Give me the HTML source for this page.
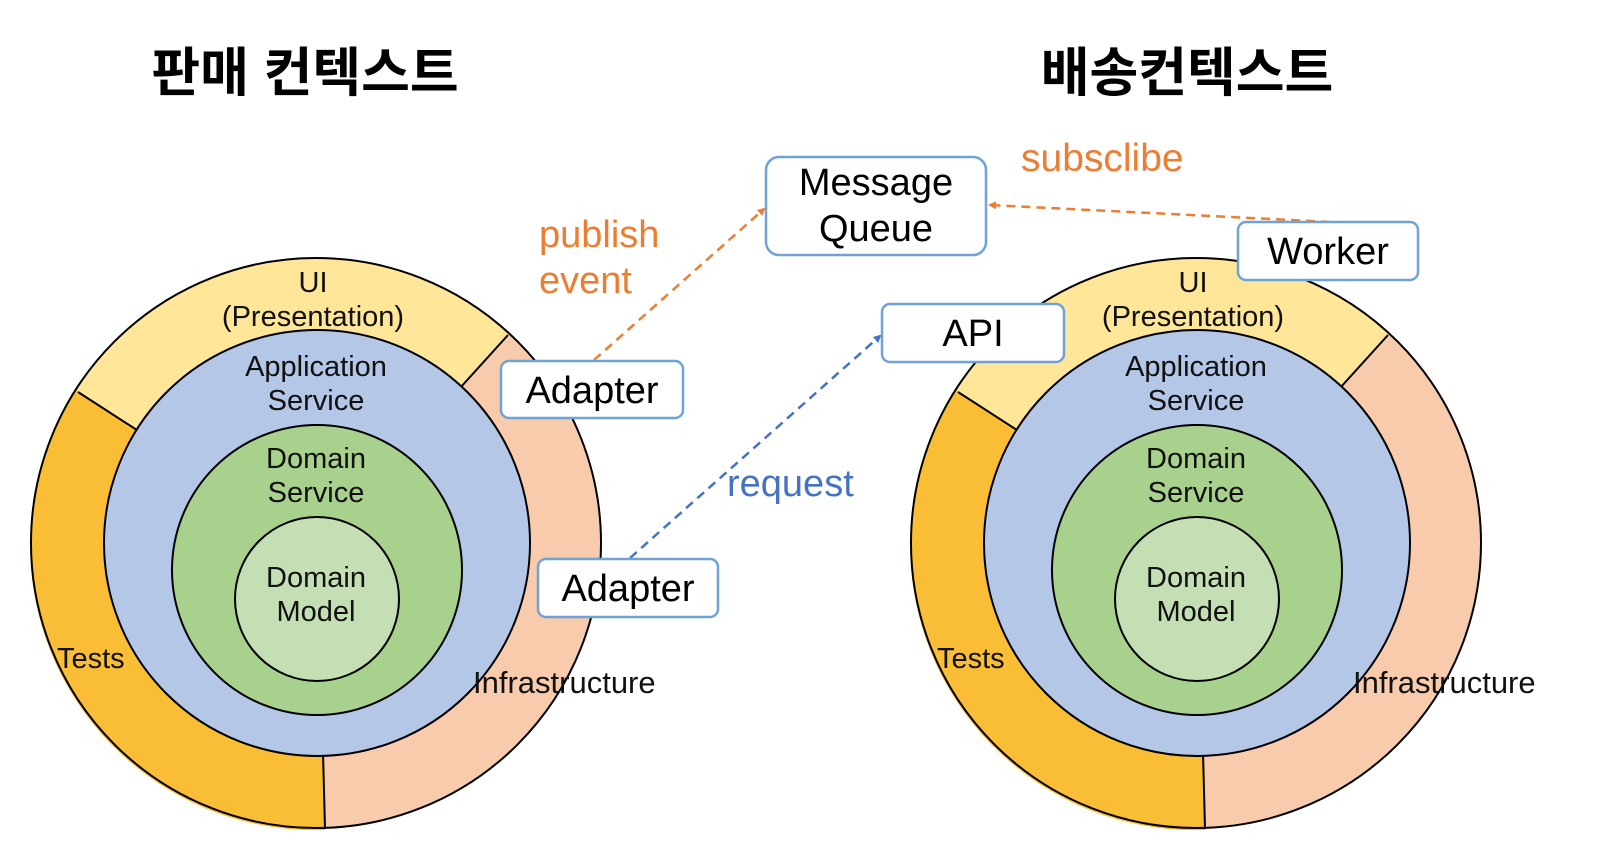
<!DOCTYPE html>
<html><head><meta charset="utf-8"><style>
html,body{margin:0;padding:0;background:#fff;}
svg{display:block;}
text{font-family:"Liberation Sans","Noto Sans CJK KR",sans-serif;}
</style></head><body>
<svg width="1600" height="864" viewBox="0 0 1600 864" xmlns="http://www.w3.org/2000/svg">
<defs>
<marker id="ao" markerWidth="8" markerHeight="8" refX="6" refY="4" orient="auto" markerUnits="userSpaceOnUse"><path d="M0,0 L8,4 L0,8 Z" fill="#ED7D31"/></marker>
<marker id="ab" markerWidth="8" markerHeight="8" refX="6" refY="4" orient="auto" markerUnits="userSpaceOnUse"><path d="M0,0 L8,4 L0,8 Z" fill="#4472C4"/></marker>
<g id="onion">
<circle cx="316" cy="543" r="285" fill="#F8CBAD"/>
<path d="M316,543 L76,390 A285,285 0 0 1 510,334 Z" fill="#FFE699"/>
<path d="M316,543 L325,830 A285,285 0 0 1 76,390 Z" fill="#F9BE35"/>
<line x1="78" y1="392" x2="140" y2="432" stroke="#000" stroke-width="2"/>
<line x1="508" y1="335" x2="460" y2="388" stroke="#000" stroke-width="2"/>
<line x1="323" y1="752" x2="325" y2="829" stroke="#000" stroke-width="2"/>
<circle cx="316" cy="543" r="285" fill="none" stroke="#000" stroke-width="2"/>
<circle cx="317" cy="543" r="213" fill="#B4C7E7" stroke="#000" stroke-width="2"/>
<circle cx="317" cy="570" r="145" fill="#A9D18E" stroke="#000" stroke-width="2"/>
<circle cx="317" cy="599" r="82" fill="#C5DFB4" stroke="#000" stroke-width="2"/>
<g font-size="29" fill="#111" text-anchor="middle">
<text x="313" y="292">UI</text>
<text x="313" y="326">(Presentation)</text>
<text x="316" y="376">Application</text>
<text x="316" y="410">Service</text>
<text x="316" y="468">Domain</text>
<text x="316" y="502">Service</text>
<text x="316" y="587">Domain</text>
<text x="316" y="621">Model</text>
</g>
<text x="57" y="668" font-size="29" fill="#111">Tests</text>
<text x="473" y="693" font-size="31" fill="#111">Infrastructure</text>
</g>
</defs>

<text x="305" y="91" font-size="53" font-weight="bold" text-anchor="middle" fill="#000">판매 컨텍스트</text>
<text x="1187" y="91" font-size="53" font-weight="bold" text-anchor="middle" fill="#000">배송컨텍스트</text>

<use href="#onion"/>
<use href="#onion" transform="translate(880,0)"/>

<line x1="594" y1="360" x2="764" y2="209" stroke="#ED7D31" stroke-width="2.5" stroke-dasharray="9,6" marker-end="url(#ao)"/>
<line x1="1330" y1="222" x2="990" y2="205" stroke="#ED7D31" stroke-width="2.5" stroke-dasharray="9,6" marker-end="url(#ao)"/>
<line x1="630" y1="558" x2="880" y2="336" stroke="#4472C4" stroke-width="2.5" stroke-dasharray="9,6" marker-end="url(#ab)"/>

<g fill="#fff" stroke="#6FA3D8" stroke-width="2.5">
<rect x="766" y="157" width="220" height="98" rx="13"/>
<rect x="1238" y="222" width="180" height="58" rx="8"/>
<rect x="882" y="304" width="182" height="58" rx="8"/>
<rect x="501" y="361" width="182" height="57" rx="8"/>
<rect x="538" y="559" width="180" height="58" rx="8"/>
</g>
<g font-size="38" fill="#000" text-anchor="middle">
<text x="876" y="195">Message</text>
<text x="876" y="241">Queue</text>
<text x="1328" y="264">Worker</text>
<text x="973" y="346">API</text>
<text x="592" y="403">Adapter</text>
<text x="628" y="601">Adapter</text>
</g>
<g font-size="38" fill="#ED7D31">
<text x="539" y="247">publish</text>
<text x="539" y="293">event</text>
<text x="1021" y="171" font-size="39">subsclibe</text>
</g>
<text x="727" y="496" font-size="38" fill="#4472C4">request</text>
</svg>
</body></html>
